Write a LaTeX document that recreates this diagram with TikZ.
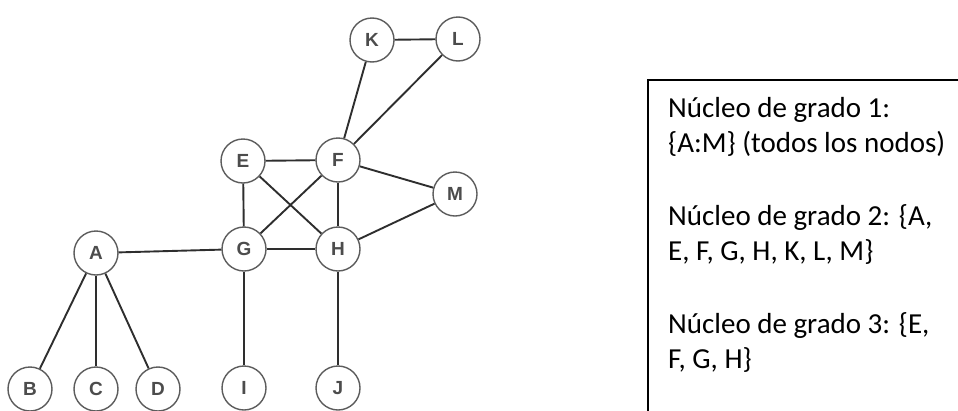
\documentclass[tikz,border=0pt]{standalone}
\usepackage{fontspec}
\setmainfont{Carlito}
\newfontfamily\vertexfont{Liberation Sans}
\definecolor{ringgray}{HTML}{5C5C5C}
\definecolor{edgegray}{HTML}{2E2E2E}
\tikzstyle{vertex}=[circle, draw=ringgray, fill=white, line width=1.4pt, minimum size=44pt, inner sep=0pt, text=black!70, font={\vertexfont\bfseries\fontsize{19}{19}\selectfont}]
\tikzstyle{link}=[draw=edgegray, line width=1.9pt]
\tikzstyle{frame}=[draw=black, line width=1.5pt, minimum width=360pt, minimum height=380pt, inner sep=0pt]
\tikzstyle{notes}=[align=left, inner sep=0pt, font={\fontsize{29}{35}\selectfont}]

\begin{document}
\begin{tikzpicture}[x=1pt, y=-1pt]

    \useasboundingbox (0,0) rectangle (958,410);
    \clip (0,0) rectangle (958,410);

    % the graph
    \node[vertex] (k) at (372, 40) {K};
    \node[vertex] (l) at (458, 39) {L};
    \node[vertex] (e) at (243,161) {E};
    \node[vertex] (f) at (338,160) {F};
    \node[vertex] (m) at (455,194) {M};
    \node[vertex] (a) at ( 96,253) {A};
    \node[vertex] (g) at (244,249) {G};
    \node[vertex] (h) at (338,249) {H};
    \node[vertex] (b) at ( 30,389) {B};
    \node[vertex] (c) at ( 96,389) {C};
    \node[vertex] (d) at (158,389) {D};
    \node[vertex] (i) at (244,388) {I};
    \node[vertex] (j) at (338,388) {J};

    \draw[link] (k) -- (l);
    \draw[link] (k) -- (f);
    \draw[link] (l) -- (f);
    \draw[link] (e) -- (f);
    \draw[link] (e) -- (g);
    \draw[link] (e) -- (h);
    \draw[link] (f) -- (g);
    \draw[link] (f) -- (h);
    \draw[link] (f) -- (m);
    \draw[link] (m) -- (h);
    \draw[link] (a) -- (g);
    \draw[link] (g) -- (h);
    \draw[link] (a) -- (b);
    \draw[link] (a) -- (c);
    \draw[link] (a) -- (d);
    \draw[link] (g) -- (i);
    \draw[link] (h) -- (j);

    % cores box
    \node[frame, anchor=north west] (box) at (647,79) {};
    \node[notes, anchor=north west] (cores) at (668,97) {%
        Núcleo de grado 1:\\
        \{A:M\} (todos los nodos)\\[38pt]
        Núcleo de grado 2: \{A,\\
        E, F, G, H, K, L, M\}\\[38pt]
        Núcleo de grado 3: \{E,\\
        F, G, H\}};

\end{tikzpicture}
\end{document}
